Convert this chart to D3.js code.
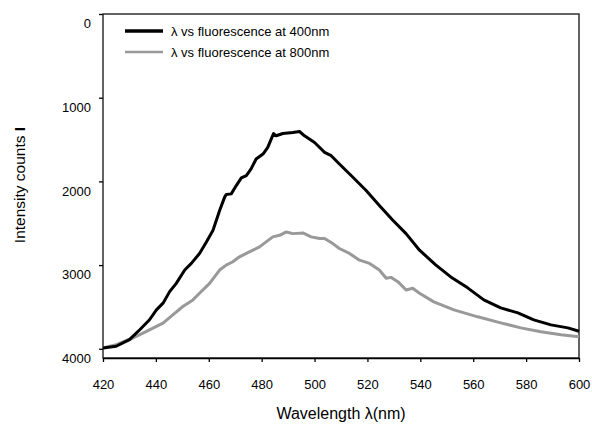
<!DOCTYPE html>
<html>
<head>
<meta charset="utf-8">
<script src="https://cdn.jsdelivr.net/npm/d3@7"></script>
<style>
  html, body { margin: 0; padding: 0; background: #fff; }
  svg { display: block; font-family: "Liberation Sans", Arial, sans-serif; }
</style>
</head>
<body>
<svg id="chart" width="592" height="424"></svg>
<script>
// ---- data ----
const xTicks = [420, 440, 460, 480, 500, 520, 540, 560, 580, 600];
const yTicks = [0, 1000, 2000, 3000, 4000];

const seriesNames = ["\u03bb vs fluorescence at 400nm", "\u03bb vs fluorescence at 800nm"];

const wl400 = [420, 425, 430, 433.9, 437.6, 440.2, 442.7, 445.2, 447.7, 450.9, 453.4, 456.5, 459.1, 461.6, 464.1, 466.0, 466.6, 468.5, 470.4, 472.3, 474.2, 476.0, 477.9, 480.5, 482.3, 483.6, 484.5, 485.5, 488.0, 491.8, 494.3, 496.2, 500.0, 503.8, 506.3, 509.4, 514.5, 519.5, 524.5, 529.6, 534.6, 539.7, 545.8, 551.5, 557.9, 564.0, 570.4, 576.9, 582.9, 589.4, 595.8, 600];
const int400 = [3990, 3970, 3891, 3772, 3653, 3535, 3455, 3317, 3218, 3059, 2980, 2861, 2723, 2584, 2347, 2188, 2156, 2149, 2050, 1958, 1931, 1851, 1733, 1673, 1594, 1495, 1428, 1455, 1428, 1416, 1404, 1455, 1535, 1653, 1693, 1792, 1950, 2109, 2287, 2465, 2624, 2822, 2997, 3141, 3272, 3415, 3511, 3571, 3654, 3714, 3750, 3790];

const wl800 = [420, 425, 431.3, 435.1, 440.2, 442.7, 446.4, 450.2, 454.0, 456.5, 460.3, 464.1, 466.6, 469.1, 471.6, 474.2, 476.7, 479.2, 481.7, 484.2, 486.8, 489.3, 491.8, 495.6, 498.7, 501.9, 503.8, 506.9, 509.4, 513.2, 517.0, 520.8, 524.5, 527.1, 528.9, 531.5, 534.6, 537.1, 539.7, 545.1, 552.7, 561.7, 570.4, 578.0, 585.6, 593.2, 600];
const int800 = [3990, 3950, 3871, 3812, 3733, 3693, 3594, 3495, 3416, 3337, 3218, 3059, 3000, 2960, 2901, 2861, 2822, 2782, 2723, 2663, 2644, 2604, 2624, 2616, 2663, 2683, 2683, 2743, 2802, 2861, 2941, 2980, 3059, 3158, 3147, 3198, 3297, 3277, 3337, 3439, 3535, 3618, 3690, 3750, 3797, 3833, 3857];

const colors = ["#000000", "#999999"];

// ---- layout ----
const svg = d3.select("#chart");
const pl = 103, pr = 579, pt = 14, pb = 358;

const x = d3.scaleLinear().domain([420, 600]).range([pl, pr]);
const y = d3.scaleLinear().domain([0, 4110]).range([pt, pb]);

// plot frame
svg.append("rect")
  .attr("x", pl).attr("y", pt)
  .attr("width", pr - pl).attr("height", pb - pt)
  .attr("fill", "none").attr("stroke", "#222").attr("stroke-width", 1.4);

// x axis
const xAxis = svg.append("g")
  .attr("transform", `translate(0,${pb})`)
  .call(d3.axisBottom(x).tickValues(xTicks).tickSize(4).tickPadding(18).tickSizeOuter(0));
xAxis.select(".domain").attr("stroke", "#000").attr("stroke-width", 1.4);
xAxis.selectAll(".tick line").attr("stroke", "#000").attr("stroke-width", 1.3);
xAxis.selectAll(".tick text").attr("font-size", 13).attr("fill", "#000")
  .attr("font-family", "Liberation Sans, Arial, sans-serif");

// y axis
const yAxis = svg.append("g")
  .attr("transform", `translate(${pl},0)`)
  .call(d3.axisLeft(y).tickValues(yTicks).tickFormat(d3.format("d")).tickSize(4).tickPadding(8).tickSizeOuter(0));
yAxis.select(".domain").remove();
yAxis.selectAll(".tick line").attr("stroke", "#000").attr("stroke-width", 1.3);
yAxis.selectAll(".tick text").attr("font-size", 13).attr("fill", "#000")
  .attr("dy", "1.05em")
  .attr("font-family", "Liberation Sans, Arial, sans-serif");

// lines
const line = d3.line().x(d => x(d[0])).y(d => y(d[1]));
const series = [d3.zip(wl400, int400), d3.zip(wl800, int800)];
[1, 0].forEach(i => {
  svg.append("path")
    .datum(series[i])
    .attr("d", line)
    .attr("fill", "none")
    .attr("stroke", colors[i])
    .attr("stroke-width", 3)
    .attr("stroke-linejoin", "round");
});

// legend
const legendY = [31, 52];
seriesNames.forEach((name, i) => {
  svg.append("line")
    .attr("x1", 125).attr("x2", 163)
    .attr("y1", legendY[i]).attr("y2", legendY[i])
    .attr("stroke", colors[i])
    .attr("stroke-width", i === 0 ? 3.5 : 2.5);
  svg.append("text")
    .attr("x", 171).attr("y", legendY[i])
    .attr("dy", "0.35em")
    .attr("font-size", 13)
    .attr("fill", "#000")
    .text(name);
});

// axis titles
svg.append("text")
  .attr("x", 341).attr("y", 419)
  .attr("text-anchor", "middle")
  .attr("font-size", 16)
  .attr("fill", "#000")
  .text("Wavelength \u03bb(nm)");

const yt = svg.append("text")
  .attr("transform", `translate(25,185) rotate(-90)`)
  .attr("text-anchor", "middle")
  .attr("font-size", 15.5)
  .attr("fill", "#000");
yt.append("tspan").text("Intensity counts ");
yt.append("tspan").attr("font-weight", "bold").text("I");
</script>
</body>
</html>
